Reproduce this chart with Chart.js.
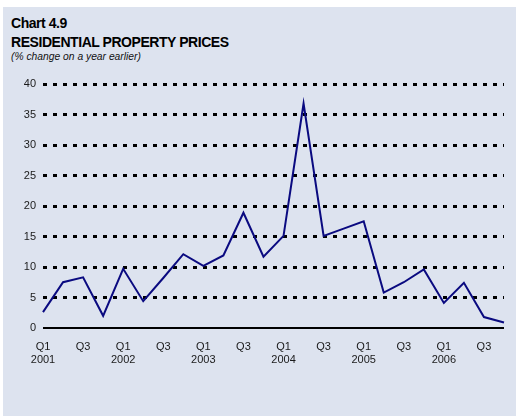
<!DOCTYPE html>
<html>
<head>
<meta charset="utf-8">
<script src="https://cdn.jsdelivr.net/npm/chart.js@4/dist/chart.umd.min.js"></script>
<style>
  html, body { margin: 0; padding: 0; background: #fff; }
  body { width: 516px; height: 416px; position: relative; overflow: hidden; font-family: "Liberation Sans", Arial, sans-serif; }
  #fondo { position: absolute; left: 3px; top: 7px; right: 0; bottom: 0; background: #dde3ef; }
  .t { position: absolute; left: 11px; color: #000; white-space: nowrap; }
  #t1 { top: 16px; font-size: 14px; line-height: 14px; font-weight: bold; letter-spacing: -0.45px; }
  #t2 { top: 35px; font-size: 14px; line-height: 14px; font-weight: bold; letter-spacing: -0.45px; }
  #t3 { top: 52px; font-size: 10.3px; line-height: 10.3px; font-style: italic; color: #111; }
  #wrap { position: absolute; left: 0; top: 0; width: 516px; height: 416px; }
</style>
</head>
<body>
<div id="fondo"></div>
<div class="t" id="t1">Chart 4.9</div>
<div class="t" id="t2">RESIDENTIAL PROPERTY PRICES</div>
<div class="t" id="t3">(% change on a year earlier)</div>
<div id="wrap"><canvas id="grafico" width="516" height="416"></canvas></div>
<script>
// Trimestres Q1 2001 .. Q4 2006
const trimestres = [
  '2001Q1', '2001Q2', '2001Q3', '2001Q4',
  '2002Q1', '2002Q2', '2002Q3', '2002Q4',
  '2003Q1', '2003Q2', '2003Q3', '2003Q4',
  '2004Q1', '2004Q2', '2004Q3', '2004Q4',
  '2005Q1', '2005Q2', '2005Q3', '2005Q4',
  '2006Q1', '2006Q2', '2006Q3', '2006Q4'
];

// % variación interanual
const precios = [
  2.6, 7.5, 8.3, 2.0,
  9.7, 4.4, 8.2, 12.1,
  10.2, 11.9, 18.9, 11.7,
  15.1, 36.8, 15.1, 16.3,
  17.5, 5.8, 7.5, 9.6,
  4.1, 7.4, 1.8, 0.9
];

const etiquetasX = [
  ['Q1', '2001'], '', 'Q3', '',
  ['Q1', '2002'], '', 'Q3', '',
  ['Q1', '2003'], '', 'Q3', '',
  ['Q1', '2004'], '', 'Q3', '',
  ['Q1', '2005'], '', 'Q3', '',
  ['Q1', '2006'], '', 'Q3', ''
];

const Y_MIN = 0, Y_MAX = 40, Y_PASO = 5;

const fuente = { family: '"Liberation Sans", Arial, sans-serif', size: 11 };

new Chart(document.getElementById('grafico'), {
  type: 'line',
  data: {
    labels: trimestres,
    datasets: [{
      data: precios,
      borderColor: '#0a0a80',
      borderWidth: 2,
      pointRadius: 0,
      tension: 0,
      fill: false
    }]
  },
  options: {
    responsive: false,
    animation: false,
    layout: { padding: { top: 84, right: 6, left: 0, bottom: 0 } },
    plugins: { legend: { display: false }, tooltip: { enabled: false } },
    scales: {
      x: {
        offset: false,
        grid: { display: false, drawTicks: false },
        border: { display: false },
        ticks: {
          autoSkip: false, maxRotation: 0, minRotation: 0,
          padding: 12, color: '#1a1a1a', font: fuente,
          callback: (v, i) => etiquetasX[i]
        },
        afterFit: s => { s.height = 88; }
      },
      y: {
        min: Y_MIN, max: Y_MAX,
        grid: {
          drawTicks: false,
          color: '#000',
          lineWidth: c => (c.tick && c.tick.value === 0 ? 2 : 3)
        },
        border: {
          display: false,
          dash: c => (c.tick && c.tick.value === 0 ? [] : [4, 6])
        },
        ticks: { stepSize: Y_PASO, padding: 7, color: '#1a1a1a', font: fuente },
        afterFit: s => { s.width = 43; }
      }
    }
  }
});
</script>
</body>
</html>
